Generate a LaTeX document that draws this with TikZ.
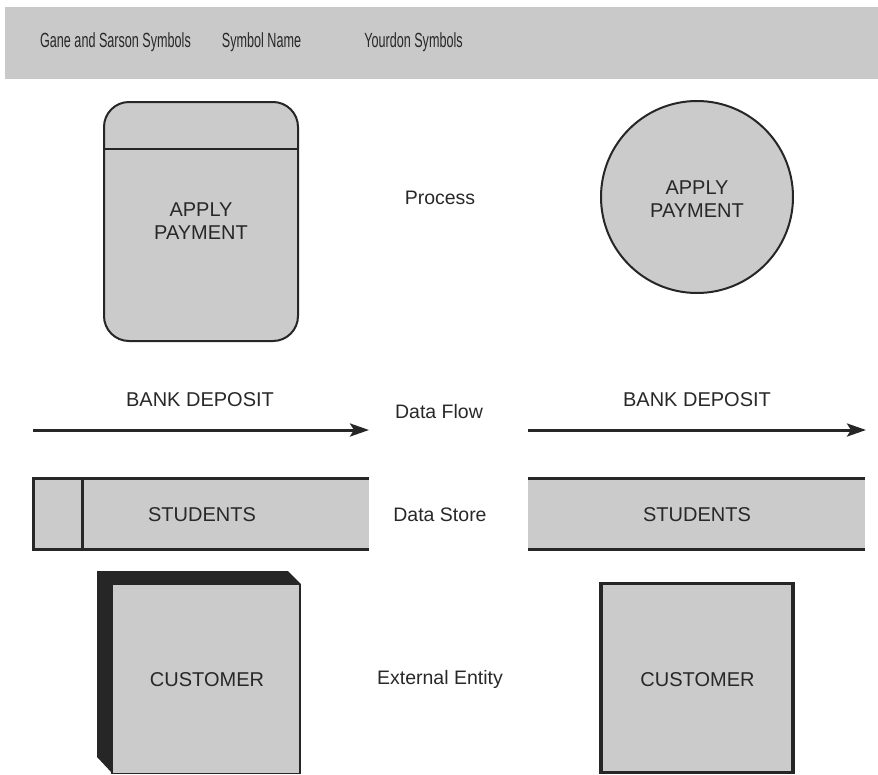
\documentclass[tikz,border=0pt]{standalone}
\usepackage{fontspec}
\setmainfont{Liberation Sans}
\usetikzlibrary{arrows.meta}
\definecolor{symfill}{HTML}{CBCBCB}
\definecolor{bandfill}{HTML}{C9C9C9}
\definecolor{ink}{HTML}{262626}
\definecolor{txt}{HTML}{282828}
\begin{document}
\begin{tikzpicture}[x=1pt,y=-1pt,
  every node/.style={text=txt, font=\fontsize{20}{23}\selectfont, inner sep=0pt},
  headtxt/.style={font=\fontsize{20.5}{24}\selectfont, xscale=0.615},
  symtxt/.style={align=center},
  rowlabel/.style={font=\fontsize{19.5}{23}\selectfont},
  shapefill/.style={fill=symfill, draw=ink},
  flowline/.style={draw=ink, line width=3pt, -{Stealth[length=19pt,width=13pt,inset=4pt]}},
  storeline/.style={draw=ink, line width=3pt},
]
\useasboundingbox (0,0) rectangle (878,774);

% header band
\fill[bandfill] (5,7) rectangle (878,79);
\node[headtxt] (hgs) at (115.5,42) {Gane and Sarson Symbols};
\node[headtxt] (hname) at (261.5,42) {Symbol Name};
\node[headtxt] (hyd) at (413.5,42) {Yourdon Symbols};

% row labels
\node[rowlabel] (lproc) at (440,198) {Process};
\node[rowlabel] (lflow) at (439,412) {Data Flow};
\node[rowlabel] (lstore) at (440,515) {Data Store};
\node[rowlabel] (lent) at (440,679) {External Entity};

% process
\node[shapefill, line width=2pt, rounded corners=25pt,
      minimum width=194pt, minimum height=239pt] (gsproc) at (201,221.5) {};
\draw[ink, line width=2pt] (gsproc.west |- 0,149) -- (gsproc.east |- 0,149);
\node[symtxt] (gsproctxt) at (201,221) {APPLY\\PAYMENT};

\node[shapefill, line width=2pt, circle, minimum size=192pt] (ydproc) at (697,197) {};
\node[symtxt] (ydproctxt) at (697,199) {APPLY\\PAYMENT};

% data flow
\coordinate (gsfa) at (33,430);
\coordinate (gsfb) at (369,430);
\draw[flowline] (gsfa) -- (gsfb);
\node (gsflow) at (200,400) {BANK DEPOSIT};

\coordinate (ydfa) at (528,430);
\coordinate (ydfb) at (866,430);
\draw[flowline] (ydfa) -- (ydfb);
\node (ydflow) at (697,400) {BANK DEPOSIT};

% data store
\fill[symfill] (33,478) rectangle (369,549);
\coordinate (gsst1) at (369,478);
\coordinate (gsst2) at (33,478);
\coordinate (gsst3) at (33,549);
\coordinate (gsst4) at (369,549);
\draw[storeline] (gsst1) -- (gsst2) -- (gsst3) -- (gsst4);
\coordinate (gsdiv1) at (82,478);
\coordinate (gsdiv2) at (82,549);
\draw[storeline] (gsdiv1) -- (gsdiv2);
\node (gsstore) at (202,515) {STUDENTS};

\fill[symfill] (528,478) rectangle (865,549);
\coordinate (ydst1) at (528,478);
\coordinate (ydst2) at (865,478);
\coordinate (ydst3) at (528,549);
\coordinate (ydst4) at (865,549);
\draw[storeline] (ydst1) -- (ydst2);
\draw[storeline] (ydst3) -- (ydst4);
\node (ydstore) at (697,515) {STUDENTS};

% external entity
\fill[ink] (97,571) -- (288,571) -- (301,584) -- (112,585) -- (112,773) -- (97,757) -- cycle;
\node[shapefill, line width=1.5pt, minimum width=188pt, minimum height=189pt] (gsent) at (206,679) {};
\node (gsenttxt) at (207,680) {CUSTOMER};

\node[shapefill, line width=3.5pt, minimum width=192pt, minimum height=189pt] (ydent) at (697,678) {};
\node (ydenttxt) at (697.5,680) {CUSTOMER};
\end{tikzpicture}
\end{document}
